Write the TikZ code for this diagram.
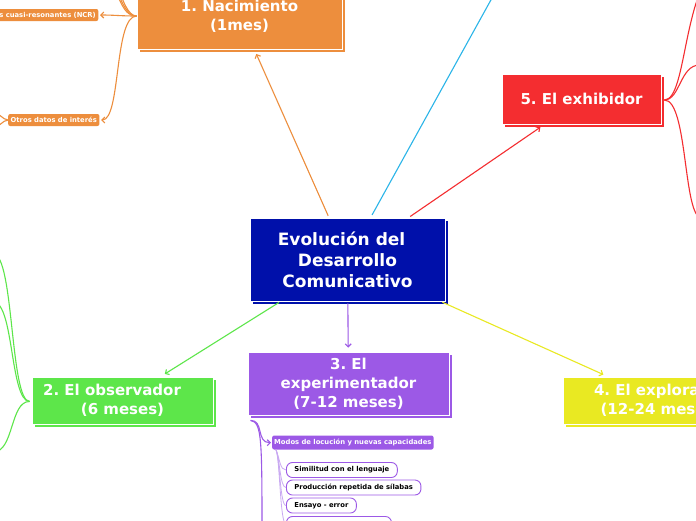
\documentclass[tikz,border=0pt]{standalone}
\usepackage{fontspec}
\setmainfont{DejaVu Sans}
\frenchspacing
\usetikzlibrary{arrows.meta,shadows,calc}
\definecolor{cblue}{HTML}{0010AA}
\definecolor{corange}{HTML}{ED8E3D}
\definecolor{cred}{HTML}{F42D30}
\definecolor{cgreen}{HTML}{5DE64A}
\definecolor{cpurple}{HTML}{9C59E6}
\definecolor{cyellow}{HTML}{E9E922}
\definecolor{ccyan}{HTML}{2BB5E8}
\definecolor{clpurple}{HTML}{C9A9F2}
\tikzset{
  mainbox/.style={fill=#1, draw=white, line width=0.8pt, text=white, align=center,
    inner sep=0pt, font=\bfseries\fontsize{15}{19}\selectfont,
    general shadow={fill=#1, shadow xshift=3pt, shadow yshift=-3pt}},
  arrowtip/.style={-{Straight Barb[length=3pt,width=6pt]}},
  conn/.style={draw=#1, line width=1.1pt, arrowtip, shorten <=2pt, shorten >=5pt},
  subline/.style={draw=#1, line width=1.1pt},
  tagbox/.style={fill=#1, rounded corners=2pt, text=white, inner xsep=2.5pt, inner ysep=0pt,
    minimum height=12pt, font=\bfseries\fontsize{6.8}{8}\selectfont},
  leafbox/.style={draw=cpurple, line width=0.9pt, fill=white, rounded corners=6pt, text=black,
    inner xsep=8pt, inner ysep=0pt, minimum height=15pt, font=\bfseries\fontsize{6.8}{8}\selectfont},
}
\begin{document}
\begin{tikzpicture}[x=1pt,y=-1pt]
\useasboundingbox (0,0) rectangle (696,520);
\fill[white] (0,0) rectangle (696,520);
\clip (0,0) rectangle (696,520);

% main nodes
\node[mainbox=cblue, minimum width=195pt, minimum height=83pt,
  font=\bfseries\fontsize{17}{21}\selectfont] (c) at (347.5,259.5)
  {Evolución del\hspace*{0.7em}\\Desarrollo\hspace*{0.4em}\\Comunicativo};
\node[mainbox=corange, minimum width=205pt, minimum height=66pt] (n1) at (239.5,16) {1. Nacimiento\\(1mes)};
\node[mainbox=cred, minimum width=159pt, minimum height=50pt] (n5) at (581.5,99) {5. El exhibidor};
\node[mainbox=cgreen, minimum width=181pt, minimum height=47pt] (n2) at (122.5,400.5) {2. El observador\hspace*{1.4em}\\(6 meses)};
\node[mainbox=cpurple, minimum width=201pt, minimum height=63pt] (n3) at (348.5,383.5) {3. El\\experimentador\hspace*{1.05em}\\(7-12 meses)};
\node[mainbox=cyellow, minimum width=196pt, minimum height=47pt] (n4) at (661,400.5) {4. El explorador\\(12-24 meses)};

% small labels
\node[tagbox=corange, anchor=east] (ncr) at (98.5,15) {Núcleos cuasi-resonantes (NCR)};
\node[tagbox=corange, anchor=west] (otros) at (8,120) {Otros datos de interés};
\node[tagbox=cpurple, anchor=west, inner xsep=2pt, minimum height=14pt] (modos) at (272,442.5) {Modos de locución y nuevas capacidades};
\node[leafbox, anchor=west] (s1) at (286,470) {Similitud con el lenguaje};
\node[leafbox, anchor=west] (s2) at (286,487.5) {Producción repetida de sílabas};
\node[leafbox, anchor=west] (s3) at (286,505.5) {Ensayo - error};
\node[leafbox, anchor=west, minimum width=105pt] (s4) at (286,524) {};

% main connectors
\coordinate (cyanend) at (560,-125);
\draw[conn=corange] (c) -- (n1);
\draw[conn=cred] (c) -- (n5);
\draw[conn=cgreen] (c) -- (n2);
\draw[conn=cpurple, shorten >=4pt] (c) -- (n3);
\draw[conn=cyellow] (c) -- (n4);
\draw[draw=ccyan, line width=1.1pt, shorten <=3pt] (c) -- (cyanend);

% orange sub-branches
\coordinate (o1) at (100,-40);
\coordinate (o2) at (90,-70);
\coordinate (o3) at (80,-110);
\draw[subline=corange] (n1.west) .. controls (120,16) and (120,-8) .. (o1);
\draw[subline=corange] (n1.west) .. controls (120,16) and (117,-22) .. (o2);
\draw[subline=corange] (n1.west) .. controls (120,16) and (115,-40) .. (o3);
\draw[subline=corange, arrowtip, shorten >=1.5pt] (n1.west) .. controls (120,16) and (115,15) .. (ncr.east);
\draw[subline=corange, arrowtip, shorten >=1.5pt] (n1.west) .. controls (114,16) and (121,120) .. (otros.east);
\coordinate (ol1) at (-20,108);
\coordinate (ol2) at (-20,132);
\draw[subline=corange] (otros.west) .. controls (2,120) and (2,112) .. (ol1);
\draw[subline=corange] (otros.west) .. controls (2,120) and (2,128) .. (ol2);

% red sub-branches
\coordinate (r0) at ($(n5.east)+(3,1)$);
\coordinate (r1) at (725,-40);
\coordinate (r2) at (701,65);
\coordinate (r3) at (703,218);
\draw[subline=cred] (r0) .. controls (688,100) and (682,-20) .. (r1);
\draw[subline=cred, arrowtip] (r0) .. controls (680,100) and (680,65) .. (r2);
\draw[subline=cred, arrowtip] (r0) .. controls (688,100) and (683,218) .. (r3);

% green sub-branches
\coordinate (g0) at ($(n2.west)+(-2,1)$);
\coordinate (g1) at (-8,254);
\coordinate (g2) at (-8,302);
\coordinate (g3) at (-8,452);
\draw[subline=cgreen, arrowtip] (g0) .. controls (10,401) and (14,254) .. (g1);
\draw[subline=cgreen, arrowtip] (g0) .. controls (10,401) and (14,302) .. (g2);
\draw[subline=cgreen, arrowtip] (g0) .. controls (10,401) and (14,452) .. (g3);

% purple sub-branches
\coordinate (p0) at ($(n3.south west)+(3,5)$);
\coordinate (pdown) at (262,540);
\draw[subline=cpurple, arrowtip, shorten >=1pt] (p0) .. controls (264,420) and (256,443) .. (modos.west);
\draw[subline=cpurple] (p0) .. controls (262,422) and (262,440) .. (pdown);
\coordinate (q0) at ($(modos.south west)+(4,0)$);
\foreach \s in {s1,s2,s3,s4}
  \draw[subline=clpurple, line width=0.8pt] (q0) .. controls +(4,10) and +(-6,0) .. (\s.west);
\end{tikzpicture}
\end{document}
